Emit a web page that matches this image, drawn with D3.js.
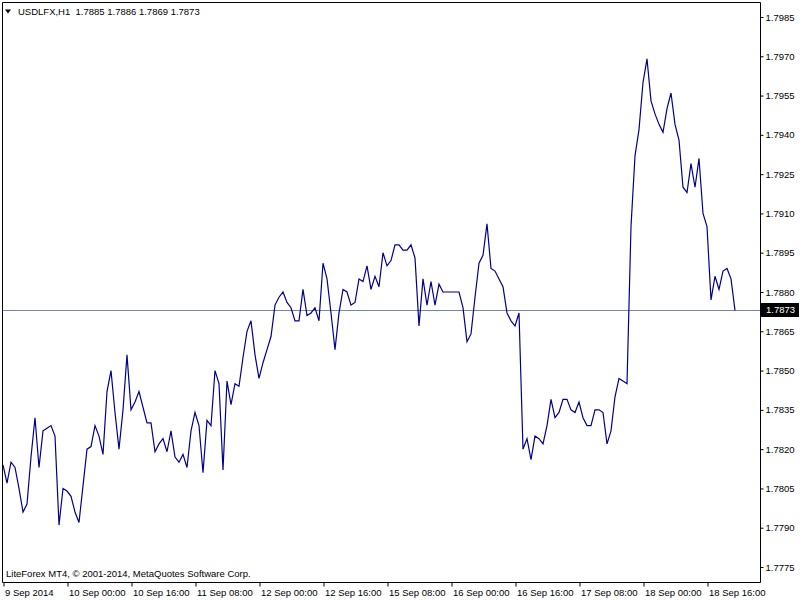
<!DOCTYPE html>
<html>
<head>
<meta charset="utf-8">
<script src="https://cdn.jsdelivr.net/npm/d3@7"></script>
<style>
  html, body { margin: 0; padding: 0; background: #ffffff; }
  svg { display: block; }
  text { font-family: "Liberation Sans", Arial, sans-serif; fill: #000; }
</style>
</head>
<body>
<svg id="chart" width="800" height="600"></svg>
<script>
// ---- data ----
const symbol = "USDLFX,H1";
const headerOHLC = [1.7885, 1.7886, 1.7869, 1.7873];
const lastPrice = 1.7873;
const footerText = "LiteForex MT4, \u00A9 2001-2014, MetaQuotes Software Corp.";

// hourly closes, one per bar
const closes = [
  1.7814, 1.7807, 1.7815, 1.7813, 1.7805, 1.7796, 1.7799, 1.7817, 1.7832, 1.7813,
  1.7827, 1.7828, 1.7829, 1.7825, 1.7791, 1.7805, 1.7804, 1.7802, 1.7796, 1.7792,
  1.7806, 1.7820, 1.7821, 1.7829, 1.7825, 1.7818, 1.7842, 1.7850, 1.7834, 1.7820,
  1.7835, 1.7856, 1.7835, 1.7838, 1.7842, 1.7836, 1.7830, 1.7830, 1.7819, 1.7822,
  1.7824, 1.7819, 1.7827, 1.7817, 1.7815, 1.7818, 1.7813, 1.7827, 1.7834, 1.7829,
  1.7811, 1.7831, 1.7829, 1.7850, 1.7845, 1.7812, 1.7846, 1.7837, 1.7845, 1.7844,
  1.7855, 1.7865, 1.7869, 1.7856, 1.7847, 1.7853, 1.7858, 1.7863, 1.7875, 1.7878,
  1.7880, 1.7876, 1.7874, 1.7869, 1.7869, 1.7881, 1.7871, 1.7872, 1.7874, 1.7869,
  1.7891, 1.7885, 1.7872, 1.7858, 1.7872, 1.7881, 1.7880, 1.7875, 1.7876, 1.7885,
  1.7884, 1.7890, 1.7881, 1.7886, 1.7882, 1.7895, 1.7890, 1.7892, 1.7898, 1.7898,
  1.7896, 1.7896, 1.7898, 1.7893, 1.7867, 1.7885, 1.7875, 1.7884, 1.7875, 1.7883,
  1.7880, 1.7880, 1.7880, 1.7880, 1.7880, 1.7874, 1.7861, 1.7864, 1.7878, 1.7891,
  1.7894, 1.7906, 1.7889, 1.7888, 1.7885, 1.7882, 1.7872, 1.7869, 1.7867, 1.7872,
  1.7820, 1.7824, 1.7816, 1.7825, 1.7824, 1.7822, 1.7829, 1.7839, 1.7832, 1.7834,
  1.7839, 1.7839, 1.7835, 1.7834, 1.7838, 1.7832, 1.7829, 1.7829, 1.7835, 1.7835,
  1.7834, 1.7822, 1.7827, 1.7840, 1.7847, 1.7846, 1.7845, 1.7905, 1.7932, 1.7942,
  1.7960, 1.7969, 1.7953, 1.7948, 1.7944, 1.7941, 1.7950, 1.7956, 1.7944, 1.7938,
  1.7920, 1.7918, 1.7929, 1.7920, 1.7931, 1.7910, 1.7905, 1.7877, 1.7886, 1.7881,
  1.7888, 1.7889, 1.7885, 1.7873
];

const tickBars = [0, 16, 32, 48, 64, 80, 96, 112, 128, 144, 160, 176];
const tickLabels = ["9 Sep 2014", "10 Sep 00:00", "10 Sep 16:00", "11 Sep 08:00",
  "12 Sep 00:00", "12 Sep 16:00", "15 Sep 08:00", "16 Sep 00:00", "16 Sep 16:00",
  "17 Sep 08:00", "18 Sep 00:00", "18 Sep 16:00"];

const priceTicks = [1.7775, 1.7790, 1.7805, 1.7820, 1.7835, 1.7850, 1.7865, 1.7880,
  1.7895, 1.7910, 1.7925, 1.7940, 1.7955, 1.7970, 1.7985];

// ---- layout ----
const svg = d3.select("#chart");
const pL = 2.5, pT = 2.5, pR = 760.5, pB = 582.5;

const x = d3.scaleLinear().domain([0, closes.length - 1]).range([3, 3 + 4 * (closes.length - 1)]);
const y = d3.scaleLinear().domain([1.7775, 1.7985]).range([567, 17]);

svg.append("rect").attr("width", 800).attr("height", 600).attr("fill", "#ffffff");

svg.append("defs").append("clipPath").attr("id", "plotclip")
  .append("rect").attr("x", pL).attr("y", pT).attr("width", pR - pL).attr("height", pB - pT);

// current price line
svg.append("line")
  .attr("x1", pL).attr("x2", pR)
  .attr("y1", Math.round(y(lastPrice)) + 0.5).attr("y2", Math.round(y(lastPrice)) + 0.5)
  .attr("stroke", "#778899").attr("stroke-width", 1);

// series line
svg.append("path")
  .datum(closes)
  .attr("clip-path", "url(#plotclip)")
  .attr("fill", "none")
  .attr("stroke", "#00008f")
  .attr("stroke-width", 1.2)
  .attr("d", d3.line().x((d, i) => x(i)).y(d => y(d)));

// frame
svg.append("path")
  .attr("d", `M${pL},${pB}V${pT}H${pR}V${pB}H${pL}`)
  .attr("fill", "none").attr("stroke", "#000").attr("stroke-width", 1);

// y axis (right)
const yAxis = svg.append("g")
  .attr("transform", `translate(${pR},0)`)
  .call(d3.axisRight(y).tickValues(priceTicks).tickSize(3).tickPadding(2)
    .tickFormat(d3.format(".4f")));
yAxis.select(".domain").remove();
yAxis.selectAll(".tick line").attr("stroke", "#000");
yAxis.selectAll(".tick text").style("font-family", "Liberation Sans, Arial, sans-serif")
  .style("font-size", "9.5px").attr("fill", "#000");

// price label box
const py = Math.round(y(lastPrice));
svg.append("rect").attr("x", 761).attr("y", py - 7).attr("width", 38).attr("height", 14).attr("fill", "#000");
svg.append("text").attr("x", 766).attr("y", py).attr("dy", "0.35em")
  .style("font-size", "9.5px").style("fill", "#fff")
  .text(d3.format(".4f")(lastPrice));

// x axis (bottom)
const xAxis = svg.append("g")
  .attr("transform", `translate(0.5,${pB})`)
  .call(d3.axisBottom(x).tickValues(tickBars).tickSize(4).tickPadding(3)
    .tickFormat((d, i) => tickLabels[i]));
xAxis.select(".domain").remove();
xAxis.selectAll(".tick line").attr("stroke", "#000");
xAxis.selectAll(".tick text").attr("text-anchor", "start").attr("dx", 1)
  .style("font-family", "Liberation Sans, Arial, sans-serif").style("font-size", "9.5px").attr("fill", "#000");

// header
svg.append("path").attr("d", "M5,9.5 L11,9.5 L8,13.5 Z").attr("fill", "#000");
svg.append("text").attr("x", 18).attr("y", 12).attr("dy", "0.35em")
  .style("font-size", "9.5px")
  .text(symbol + "\u00A0\u00A0" + headerOHLC.map(d3.format(".4f")).join(" "));

// footer
svg.append("text").attr("x", 6).attr("y", 574).attr("dy", "0.35em")
  .style("font-size", "9.5px")
  .text(footerText);
</script>
</body>
</html>
